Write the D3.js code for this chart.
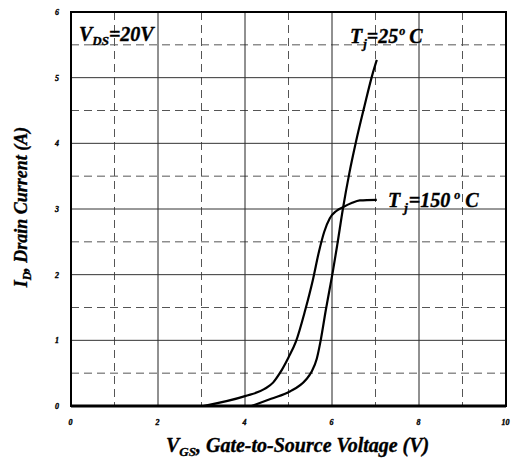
<!DOCTYPE html>
<html><head><meta charset="utf-8">
<script src="https://cdn.jsdelivr.net/npm/d3@7"></script>
<style>
body{margin:0;background:#fff;}
text{font-family:"Liberation Serif","Times New Roman",serif;font-weight:bold;font-style:italic;fill:#000;}
.lab{stroke:#000;stroke-width:0.35;}
</style></head><body>
<svg id="c" width="514" height="465"></svg>
<script>
const xTicks = [0, 2, 4, 6, 8, 10];
const yTicks = [0, 1, 2, 3, 4, 5, 6];
const xMinor = [1, 3, 5, 7, 9];
const yMinor = [0.5, 1.5, 2.5, 3.5, 4.5, 5.5];
const vgs25 = [4.15, 4.6, 5.03, 5.40, 5.53, 5.65, 5.74, 5.86, 5.94, 6.02, 6.12, 6.25, 6.40, 6.55, 6.74, 6.93, 7.03];
const id25  = [0.0, 0.11, 0.22, 0.40, 0.52, 0.72, 1.0, 1.47, 1.76, 2.05, 2.45, 3.0, 3.55, 4.02, 4.55, 5.05, 5.27];
const vgs150 = [3.04, 4.0, 4.45, 4.65, 4.80, 5.0, 5.17, 5.38, 5.56, 5.70, 5.82, 5.95, 6.10, 6.26, 6.45, 6.64, 7.03];
const id150  = [0.0, 0.15, 0.26, 0.36, 0.50, 0.74, 0.98, 1.45, 1.92, 2.35, 2.65, 2.86, 2.97, 3.03, 3.09, 3.13, 3.14];

const svg = d3.select("#c");
const L = 71, T = 12, R = 506, B = 406;
const x = d3.scaleLinear().domain([0, 10]).range([L, R]);
const y = d3.scaleLinear().domain([0, 6]).range([B, T]);

// grid
const g = svg.append("g");
g.selectAll(".vm").data(xMinor).join("line")
  .attr("x1", d => x(d)).attr("x2", d => x(d)).attr("y1", T).attr("y2", B)
  .attr("stroke", "#555").attr("stroke-width", 1).attr("stroke-dasharray", "8,5");
g.selectAll(".hm").data(yMinor).join("line")
  .attr("x1", L).attr("x2", R).attr("y1", d => y(d)).attr("y2", d => y(d))
  .attr("stroke", "#555").attr("stroke-width", 1).attr("stroke-dasharray", "8,5");
g.selectAll(".vM").data(xTicks.slice(1, -1)).join("line")
  .attr("x1", d => x(d)).attr("x2", d => x(d)).attr("y1", T).attr("y2", B)
  .attr("stroke", "#222").attr("stroke-width", 1);
g.selectAll(".hM").data(yTicks.slice(1, -1)).join("line")
  .attr("x1", L).attr("x2", R).attr("y1", d => y(d)).attr("y2", d => y(d))
  .attr("stroke", "#333").attr("stroke-width", 1);

// frame
svg.append("rect").attr("x", L).attr("y", T).attr("width", R - L).attr("height", B - T)
  .attr("fill", "none").attr("stroke", "#000").attr("stroke-width", 2);
svg.append("line").attr("x1", L).attr("x2", R).attr("y1", B).attr("y2", B)
  .attr("stroke", "#000").attr("stroke-width", 3);

// axes
const xa = svg.append("g").attr("transform", `translate(0,${B + 10})`)
  .call(d3.axisBottom(x).tickValues(xTicks).tickSize(0).tickFormat(d3.format("d")));
xa.select(".domain").remove();
xa.selectAll("text").attr("font-size", 8).attr("dx", -1).attr("class", "lab")
  .style("font-family", '"Liberation Serif",serif').style("font-weight", "bold").style("font-style", "italic");
const ya = svg.append("g").attr("transform", `translate(${L - 9},0)`)
  .call(d3.axisLeft(y).tickValues(yTicks).tickSize(0).tickFormat(d3.format("d")));
ya.select(".domain").remove();
ya.selectAll("text").attr("font-size", 8).attr("class", "lab")
  .style("font-family", '"Liberation Serif",serif').style("font-weight", "bold").style("font-style", "italic");

// curves
const line = d3.line().x(d => x(d[0])).y(d => y(d[1])).curve(d3.curveMonotoneX);
svg.append("path").datum(vgs25.map((v, i) => [v, id25[i]]))
  .attr("d", line).attr("fill", "none").attr("stroke", "#000").attr("stroke-width", 2.2);
svg.append("path").datum(vgs150.map((v, i) => [v, id150[i]]))
  .attr("d", line).attr("fill", "none").attr("stroke", "#000").attr("stroke-width", 2.2);

// labels
function label(px, py, parts, size) {
  const t = svg.append("text").attr("class", "lab").attr("x", px).attr("y", py).attr("font-size", size);
  parts.forEach(p => {
    t.append("tspan").text(p.t).attr("font-size", p.s || size).attr("dy", p.dy || 0).attr("dx", p.dx || 0);
  });
  return t;
}
label(79, 41, [{t: "V"}, {t: "DS", s: 13, dy: 4}, {t: "=20V", dy: -4}], 20);
label(350, 43, [{t: "T"}, {t: "j", s: 13, dy: 5, dx: 1}, {t: "=25", dy: -5}, {t: "o", s: 12, dy: -8, dx: 1}, {t: "C", dy: 8, dx: 4}], 20);
label(388, 207, [{t: "T", dx: 0}, {t: "j", s: 13, dy: 5, dx: 4}, {t: "=150", dy: -5, dx: 1}, {t: "o", s: 12, dy: -8, dx: 4}, {t: "C", dy: 8, dx: 5}], 20);

// axis titles
label(166, 452, [{t: "V"}, {t: "GS", s: 13, dy: 4}, {t: ", Gate-to-Source Voltage (V)", dy: -4}], 20);
const yt = svg.append("text").attr("class", "lab").attr("transform", "translate(27,207) rotate(-90)")
  .attr("text-anchor", "middle").attr("font-size", 18);
yt.append("tspan").text("I");
yt.append("tspan").text("D").attr("font-size", 12).attr("dy", 4);
yt.append("tspan").text(", Drain Current (A)").attr("dy", -4);
</script></body></html>
